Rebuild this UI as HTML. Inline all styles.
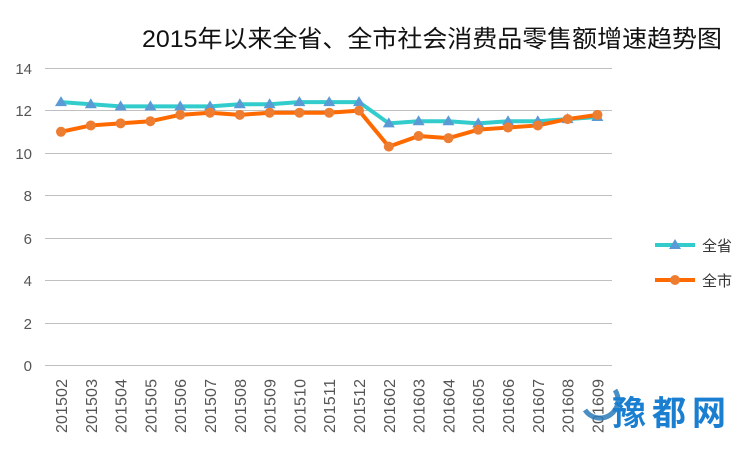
<!DOCTYPE html>
<html><head><meta charset="utf-8"><style>
html,body{margin:0;padding:0;background:#fff;width:750px;height:450px;overflow:hidden}
</style></head><body>
<svg width="750" height="450" xmlns="http://www.w3.org/2000/svg" font-family="Liberation Sans, Noto Sans CJK SC, sans-serif">
<text x="142" y="47" font-size="24" fill="#111" textLength="580" lengthAdjust="spacingAndGlyphs" font-family="Liberation Sans, Noto Sans CJK SC, sans-serif">2015年以来全省、全市社会消费品零售额增速趋势图</text>
<g stroke="#c0c0c0" stroke-width="1">
<line x1="45" x2="612" y1="68.5" y2="68.5"/><line x1="45" x2="612" y1="110.5" y2="110.5"/><line x1="45" x2="612" y1="153.5" y2="153.5"/><line x1="45" x2="612" y1="195.5" y2="195.5"/><line x1="45" x2="612" y1="238.5" y2="238.5"/><line x1="45" x2="612" y1="280.5" y2="280.5"/><line x1="45" x2="612" y1="323.5" y2="323.5"/><line x1="45" x2="612" y1="365.5" y2="365.5"/>
</g>
<g font-size="15" fill="#555" text-anchor="end">
<text x="32" y="74">14</text><text x="32" y="116">12</text><text x="32" y="159">10</text><text x="32" y="201">8</text><text x="32" y="244">6</text><text x="32" y="286">4</text><text x="32" y="329">2</text><text x="32" y="371">0</text>
</g>
<g id="lbl" font-size="16" fill="#555"></g>
<polyline id="a" fill="none" stroke="#33cccc" stroke-width="4" stroke-linejoin="round"/>
<polyline id="b" fill="none" stroke="#ff6a00" stroke-width="4" stroke-linejoin="round"/>
<g id="ma"></g><g id="mb"></g>
<line x1="655" x2="695" y1="245" y2="245" stroke="#33cccc" stroke-width="4"/>
<polygon points="675,239 681,249 669,249" fill="#5b9bd5"/>
<text x="702" y="251" font-size="15" fill="#333">全省</text>
<line x1="655" x2="695" y1="280" y2="280" stroke="#ff6a00" stroke-width="4"/>
<circle cx="675" cy="280" r="5" fill="#ed7d31"/>
<text x="702" y="286" font-size="15" fill="#333">全市</text>
<path d="M585,410 a18,18 0 1,0 30,-20" fill="none" stroke="#2a7ab8" stroke-width="5" opacity="0.85"/>
<text x="612" y="425" font-size="34" font-weight="bold" fill="#1a7fd0" letter-spacing="6">豫都网</text>
</svg>
<script>
var A=[12.4,12.3,12.2,12.2,12.2,12.2,12.3,12.3,12.4,12.4,12.4,11.4,11.5,11.5,11.4,11.5,11.5,11.6,11.7];
var B=[11.0,11.3,11.4,11.5,11.8,11.9,11.8,11.9,11.9,11.9,12.0,10.3,10.8,10.7,11.1,11.2,11.3,11.6,11.8];
var L=["201502","201503","201504","201505","201506","201507","201508","201509","201510","201511","201512","201602","201603","201604","201605","201606","201607","201608","201609"];
var ns="http://www.w3.org/2000/svg";
function X(i){return 61+i*29.8}function Y(v){return 365-21.2*v}
var pa=[],pb=[],ma=document.getElementById('ma'),mb=document.getElementById('mb'),lb=document.getElementById('lbl');
for(var i=0;i<19;i++){pa.push(X(i)+','+Y(A[i]));pb.push(X(i)+','+Y(B[i]));
var p=document.createElementNS(ns,'polygon');var x=X(i),y=Y(A[i]);p.setAttribute('points',x+','+(y-6)+' '+(x+6)+','+(y+4)+' '+(x-6)+','+(y+4));p.setAttribute('fill','#5b9bd5');ma.appendChild(p);
var c=document.createElementNS(ns,'circle');c.setAttribute('cx',x);c.setAttribute('cy',Y(B[i]));c.setAttribute('r',5);c.setAttribute('fill','#ed7d31');mb.appendChild(c);
var t=document.createElementNS(ns,'text');t.setAttribute('transform','translate('+(x+6)+',433) rotate(-90)');t.setAttribute('textLength','54');t.textContent=L[i];lb.appendChild(t);}
document.getElementById('a').setAttribute('points',pa.join(' '));
document.getElementById('b').setAttribute('points',pb.join(' '));
</script>
</body></html>
